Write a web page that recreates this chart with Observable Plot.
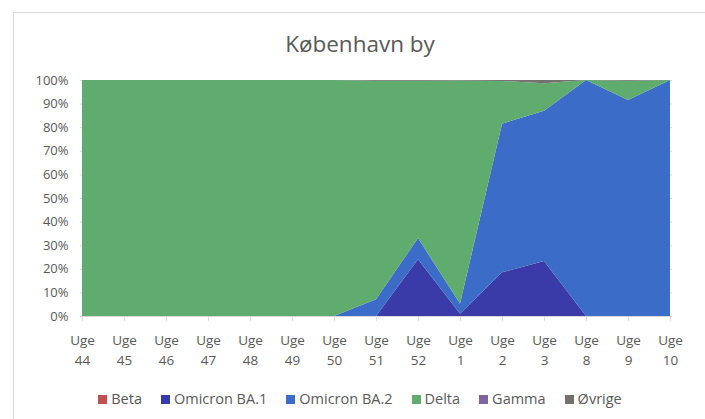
<!DOCTYPE html>
<html>
<head>
<meta charset="utf-8">
<script src="https://cdn.jsdelivr.net/npm/d3@7"></script>
<script src="https://cdn.jsdelivr.net/npm/@observablehq/plot@0.6"></script>
<style>
  html, body { margin: 0; padding: 0; background: #fff; width: 705px; height: 419px; overflow: hidden; font-family: "Open Sans", "Noto Sans", sans-serif; }
  #frame { position: absolute; left: 13px; top: 12px; width: 760px; height: 440px; border: 1px solid #d9d9d9; }
  #title { position: absolute; left: 0; top: 29px; width: 720px; text-align: center; font-size: 22.5px; line-height: 30px; color: #595959; }
  #chart { position: absolute; left: 0; top: 70px; }
  #legend { position: absolute; left: 0; width: 720px; top: 389px; display: flex; justify-content: center; gap: 19px; font-size: 14.5px; line-height: 20px; color: #595959; white-space: nowrap; }
  #legend .item { display: flex; align-items: center; gap: 4px; }
  #legend .sw { width: 9px; height: 9px; display: inline-block; }
</style>
</head>
<body>
<div id="frame"></div>
<div id="title">København by</div>
<div id="chart"></div>
<div id="legend"></div>
<script>
const weeks = ["44","45","46","47","48","49","50","51","52","1","2","3","8","9","10"];
const seriesNames = ["Beta","Omicron BA.1","Omicron BA.2","Delta","Gamma","Øvrige"];
const colors = ["#c0504d","#3a3ba8","#3b6cc8","#5fac6e","#8064a2","#767171"];
const beta   = [0,0,0,0,0,0,0,0,0,0,0,0,0,0,0];
const ba1    = [0,0,0,0,0,0,0,0,24,1,18.5,23.3,0,0,0];
const ba2    = [0,0,0,0,0,0,0,7.1,9,4.3,63,63.7,100,91.5,100];
const gamma  = [0,0,0,0,0,0,0,0,0,0,0,0,0,0,0];
const ovrige = [0,0,0,0,0,0,0,0.3,0.3,0.2,0.4,1.4,0,0.3,0];
const delta  = [100,100,100,100,100,100,100,92.6,66.7,94.5,18.1,11.6,0,8.2,0];

const valuesBySeries = [beta, ba1, ba2, delta, gamma, ovrige];
const rows = [];
seriesNames.forEach((s, i) => {
  weeks.forEach((w, j) => rows.push({week: w, series: s, value: valuesBySeries[i][j]}));
});

const yTicks = d3.range(0, 1.0001, 0.1);

const chart = Plot.plot({
  width: 705,
  height: 300,
  marginLeft: 80,
  marginRight: 33,
  marginTop: 10,
  marginBottom: 54,
  style: {fontFamily: "'Open Sans', 'Noto Sans', sans-serif", fontSize: "13px", color: "#595959", background: "transparent"},
  x: {type: "point", domain: weeks, padding: 0},
  y: {domain: [0, 1]},
  color: {domain: seriesNames, range: colors},
  marks: [
    Plot.gridY(yTicks, {stroke: "#d9d9d9", strokeOpacity: 1}),
    Plot.areaY(rows, Plot.stackY({offset: "normalize", order: null}, {x: "week", y: "value", z: "series", fill: "series", fillOpacity: 1})),
    Plot.ruleY([0], {stroke: "#d9d9d9"}),
    Plot.axisY({ticks: yTicks, tickFormat: d3.format(".0%"), tickSize: 0, tickPadding: 12, label: null, fill: "#595959", fontSize: 13}),
    Plot.axisX({tickFormat: d => "Uge\n" + d, tickSize: 5, tickPadding: 10, stroke: "#d9d9d9", strokeOpacity: 1, label: null, fill: "#595959", fontSize: 13.5, lineHeight: 1.45})
  ]
});
document.getElementById("chart").appendChild(chart);

const legend = document.getElementById("legend");
seriesNames.forEach((s, i) => {
  const it = document.createElement("div");
  it.className = "item";
  const sw = document.createElement("span");
  sw.className = "sw";
  sw.style.background = colors[i];
  const t = document.createElement("span");
  t.textContent = s;
  it.appendChild(sw); it.appendChild(t);
  legend.appendChild(it);
});
</script>
</body>
</html>
